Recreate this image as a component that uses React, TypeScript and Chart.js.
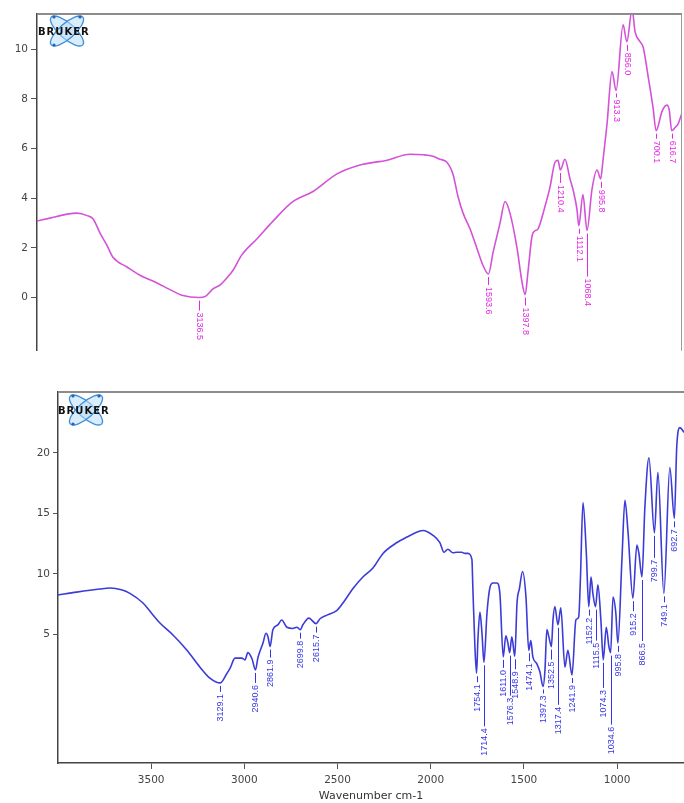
import React, { useEffect, useRef } from "react";
import { Chart, registerables } from "chart.js";

Chart.register(...registerables);

// ---------- Top spectrum (magenta) ----------
const TOP_WN = [
  4000, 3931, 3840, 3787, 3733, 3701, 3664, 3627, 3595, 3520,
  3451, 3360, 3291, 3222, 3136.5, 3100, 3062, 3025, 2987, 2955,
  2910, 2827, 2742, 2635, 2529, 2401, 2278, 2134, 2012, 1940,
  1889, 1852, 1815, 1782, 1756, 1729, 1692, 1655, 1623, 1593.6,
  1569, 1532, 1505, 1479, 1441, 1415, 1397.8, 1383, 1361, 1345,
  1329, 1292, 1265, 1239, 1223, 1210.4, 1186, 1159, 1143, 1122,
  1112.1, 1090, 1068.4, 1042, 1015, 995.8, 983, 962, 935, 913.3,
  876, 856.0, 828, 812, 785, 769, 743, 716, 700.1, 668,
  642, 630, 616.7, 600, 585, 562,
];
const TOP_ABS = [
  3.08, 3.2, 3.36, 3.4, 3.3, 3.16, 2.6, 2.1, 1.62, 1.23,
  0.9, 0.59, 0.32, 0.08, 0.0, 0.06, 0.35, 0.5, 0.8, 1.1,
  1.7, 2.37, 3.08, 3.87, 4.27, 4.98, 5.34, 5.53, 5.77, 5.75,
  5.69, 5.57, 5.45, 4.95, 4.07, 3.4, 2.77, 1.98, 1.3, 0.95,
  1.82, 3.0, 3.87, 3.4, 1.98, 0.63, 0.12, 1.03, 2.49, 2.69,
  2.77, 3.68, 4.47, 5.45, 5.53, 5.14, 5.57, 4.78, 4.35, 3.56,
  2.89, 4.15, 2.7, 4.35, 5.14, 4.78, 5.53, 6.96, 9.1, 8.34,
  10.99, 10.3, 11.6, 10.7, 10.3, 10.08, 8.93, 7.63, 6.72, 7.51,
  7.75, 7.55, 6.72, 6.84, 6.96, 7.43,
];
const TOP_PEAK_WN = [3136.5, 1593.6, 1397.8, 1210.4, 1112.1, 1068.4, 995.8, 913.3, 856.0, 700.1, 616.7];
const TOP_PEAK_TEXT = ["3136.5", "1593.6", "1397.8", "1210.4", "1112.1", "1068.4", "995.8", "913.3", "856.0", "700.1", "616.7"];
const TOP_Y_TICKS = [0, 2, 4, 6, 8, 10];

// ---------- Bottom spectrum (blue) ----------
const BOT_WN = [
  4000, 3900, 3775, 3721, 3660, 3614, 3544, 3500, 3453, 3383,
  3308, 3238, 3185, 3129.1, 3093, 3077, 3050, 3013, 2997, 2981,
  2959, 2940.6, 2927, 2900, 2884, 2873, 2861.9, 2847, 2820, 2800,
  2772, 2740, 2718, 2699.8, 2686, 2654, 2615.7, 2594, 2557, 2503,
  2471, 2417, 2364, 2310, 2256, 2181, 2128, 2058, 2042, 1988,
  1951, 1929, 1908, 1881, 1860, 1833, 1817, 1800, 1779, 1774,
  1763, 1754.1, 1747, 1736, 1725, 1714.4, 1698, 1682, 1666, 1645,
  1629, 1611.0, 1597, 1586, 1576.3, 1565, 1548.9, 1537, 1524, 1507,
  1489, 1474.1, 1463, 1452, 1431, 1414, 1397.3, 1387, 1377, 1366,
  1352.5, 1344, 1334, 1317.4, 1302, 1280, 1264, 1241.9, 1221, 1206,
  1197, 1183, 1165, 1152.2, 1140, 1130, 1115.5, 1103, 1087, 1074.3,
  1058, 1044, 1034.6, 1022, 1007, 995.8, 974, 958, 942, 915.2,
  894, 883, 866.5, 851, 829, 799.7, 781, 749.1, 717, 692.7,
  680, 663, 640,
];
const BOT_ABS = [
  8.26, 8.5, 8.76, 8.84, 8.7, 8.4, 7.6, 6.8, 5.95, 4.96,
  3.7, 2.3, 1.4, 1.0, 1.8, 2.2, 3.05, 3.05, 2.9, 3.5,
  3.0, 2.07, 3.1, 4.3, 5.1, 4.8, 4.0, 5.4, 5.8, 6.2,
  5.6, 5.5, 5.6, 5.4, 5.8, 6.35, 5.9, 6.3, 6.6, 7.0,
  7.6, 8.8, 9.75, 10.5, 11.7, 12.6, 13.05, 13.55, 13.6, 13.2,
  12.6, 11.8, 12.05, 11.75, 11.8, 11.8, 11.7, 11.7, 11.2, 8.9,
  4.0, 1.8, 4.5, 6.85, 5.1, 2.7, 6.8, 8.9, 9.25, 9.25,
  8.4, 3.15, 4.9, 4.3, 3.5, 4.8, 3.2, 7.6, 8.8, 10.2,
  8.1, 3.7, 4.5, 3.15, 2.6, 1.9, 0.7, 2.07, 5.4, 4.8,
  4.0, 6.2, 7.3, 5.8, 7.2, 2.3, 3.7, 1.65, 6.2, 6.45,
  9.5, 15.9, 11.7, 7.3, 9.75, 8.4, 7.3, 9.1, 6.2, 2.9,
  5.6, 4.0, 3.5, 8.1, 6.8, 4.3, 11.2, 16.1, 13.6, 8.0,
  12.4, 11.7, 9.75, 15.5, 19.6, 13.4, 18.4, 8.4, 18.8, 14.6,
  20.5, 22.1, 21.7,
];
const BOT_PEAK_WN = [3129.1, 2940.6, 2861.9, 2699.8, 2615.7, 1754.1, 1714.4, 1611.0, 1576.3, 1548.9, 1474.1, 1397.3, 1352.5, 1317.4, 1241.9, 1152.2, 1115.5, 1074.3, 1034.6, 995.8, 915.2, 866.5, 799.7, 749.1, 692.7];
const BOT_PEAK_TEXT = ["3129.1", "2940.6", "2861.9", "2699.8", "2615.7", "1754.1", "1714.4", "1611.0", "1576.3", "1548.9", "1474.1", "1397.3", "1352.5", "1317.4", "1241.9", "1152.2", "1115.5", "1074.3", "1034.6", "995.8", "915.2", "866.5", "799.7", "749.1", "692.7"];
const BOT_Y_TICKS = [5, 10, 15, 20];
const X_TICKS = [3500, 3000, 2500, 2000, 1500, 1000];

// ---------- styling (leader line lengths in px, not data) ----------
const TOP_LEADER = [10, 8, 8, 10, 5, 43, 6, 4, 6, 5, 5];
const BOT_LEADER = [6, 10, 8, 6, 6, 6, 61, 8, 40, 10, 8, 4, 10, 77, 5, 6, 31, 25, 69, 6, 10, 61, 22, 6, 6];

const TOP_COLOR = "#d452d8";
const TOP_LABEL_COLOR = "#e02ae0";
const BOT_COLOR = "#3b3bd8";
const BOT_LABEL_COLOR = "#3434e6";
const AXIS_FONT = '"DejaVu Sans", Arial, sans-serif';

function interp(wn: number[], val: number[], x: number): number {
  for (let i = 0; i < wn.length - 1; i++) {
    const a = wn[i], b = wn[i + 1];
    if ((x <= a && x >= b) || (x >= a && x <= b)) {
      const t = a === b ? 0 : (x - a) / (b - a);
      return val[i] + t * (val[i + 1] - val[i]);
    }
  }
  return val[val.length - 1];
}

function peakPlugin(id: string, wn: number[], val: number[], peaks: number[], texts: string[], leaders: number[], color: string, dir: number) {
  return {
    id,
    afterDatasetsDraw(chart: any) {
      const { ctx, scales } = chart;
      const xs = scales.x, ys = scales.y;
      ctx.save();
      ctx.fillStyle = color;
      ctx.strokeStyle = color;
      ctx.lineWidth = 1;
      ctx.font = '9px "Liberation Sans", Arial, sans-serif';
      peaks.forEach((p, i) => {
        const v = interp(wn, val, p);
        const px = Math.round(xs.getPixelForValue(p)) + 0.5;
        const py = ys.getPixelForValue(v);
        const L = leaders[i];
        ctx.beginPath();
        ctx.moveTo(px, py + 3);
        ctx.lineTo(px, py + 3 + L);
        ctx.stroke();
        ctx.save();
        ctx.translate(px, py + 5 + L);
        ctx.rotate((dir * Math.PI) / 2);
        ctx.textAlign = dir < 0 ? "right" : "left";
        ctx.textBaseline = "middle";
        ctx.fillText(texts[i], 0, 0);
        ctx.restore();
      });
      ctx.restore();
    },
  };
}

function framePlugin(id: string, drawRight: boolean) {
  return {
    id,
    afterDraw(chart: any) {
      const { ctx, chartArea: a } = chart;
      ctx.save();
      ctx.strokeStyle = "#8c8c8c";
      ctx.lineWidth = 2;
      ctx.beginPath();
      ctx.moveTo(a.left, a.top);
      ctx.lineTo(a.right, a.top);
      ctx.stroke();
      if (drawRight) {
        ctx.lineWidth = 1;
        ctx.strokeStyle = "#9a9a9a";
        ctx.beginPath();
        ctx.moveTo(a.right - 0.5, a.top);
        ctx.lineTo(a.right - 0.5, a.bottom);
        ctx.stroke();
      }
      ctx.restore();
    },
  };
}

// Logo is positioned relative to the chart area's top-left corner
function logoPlugin(id: string, dx: number, dy: number, textDx: number) {
  return {
    id,
    afterDraw(chart: any) {
      const ctx = chart.ctx as CanvasRenderingContext2D;
      const a = chart.chartArea;
      const cx = a.left + dx;
      const cy = a.top + dy;
      ctx.save();
      ctx.lineWidth = 1.3;
      ctx.strokeStyle = "#3f8fd8";
      ctx.fillStyle = "rgba(185,222,250,0.55)";
      [0.72, -0.72].forEach((ang) => {
        ctx.beginPath();
        ctx.ellipse(cx, cy, 21, 7.5, ang, 0, Math.PI * 2);
        ctx.fill();
        ctx.stroke();
      });
      ctx.fillStyle = "#2d5fae";
      [[cx - 13, cy - 14], [cx - 13, cy + 14], [cx + 13, cy - 14]].forEach(([x, y]) => {
        ctx.beginPath();
        ctx.arc(x, y, 1.6, 0, Math.PI * 2);
        ctx.fill();
      });
      ctx.font = 'bold 10px "DejaVu Sans", Arial, sans-serif';
      (ctx as any).letterSpacing = "1px";
      ctx.fillStyle = "#111";
      ctx.textBaseline = "middle";
      ctx.textAlign = "left";
      ctx.fillText("BRUKER", a.left + textDx, cy + 1);
      ctx.restore();
    },
  };
}

function yAxis(min: number, max: number, ticks: number[], width: number, tickLen: number) {
  return {
    type: "linear",
    min,
    max,
    afterBuildTicks: (s: any) => {
      s.ticks = ticks.map((v) => ({ value: v }));
    },
    afterFit: (s: any) => {
      s.width = width;
    },
    grid: { drawOnChartArea: false, drawTicks: true, tickLength: tickLen, color: "#555", lineWidth: 1 },
    border: { display: true, color: "#444", width: 1.5 },
    ticks: {
      color: "#444",
      font: { family: AXIS_FONT, size: 10.5 },
      padding: 3,
      callback: (v: any) => String(v),
    },
  };
}

export default function App() {
  const topRef = useRef<HTMLCanvasElement | null>(null);
  const botRef = useRef<HTMLCanvasElement | null>(null);

  useEffect(() => {
    const top = new Chart(topRef.current as HTMLCanvasElement, {
      type: "line",
      data: {
        datasets: [
          {
            data: TOP_WN.map((w, i) => ({ x: w, y: TOP_ABS[i] })),
            borderColor: TOP_COLOR,
            borderWidth: 1.6,
            pointRadius: 0,
            cubicInterpolationMode: "monotone",
            fill: false,
          },
        ],
      },
      options: {
        animation: false,
        responsive: false,
        devicePixelRatio: 1,
        events: [],
        layout: { padding: { top: 14, right: 2, bottom: 3, left: 0 } },
        plugins: { legend: { display: false }, tooltip: { enabled: false } },
        scales: {
          x: { type: "linear", reverse: true, min: 562, max: 4000, display: false },
          y: yAxis(-2.14, 11.42, TOP_Y_TICKS, 37, 6) as any,
        },
      } as any,
      plugins: [
        framePlugin("topFrame", true),
        peakPlugin("topPeaks", TOP_WN, TOP_ABS, TOP_PEAK_WN, TOP_PEAK_TEXT, TOP_LEADER, TOP_LABEL_COLOR, 1),
        logoPlugin("topLogo", 30, 17, 1),
      ],
    } as any);

    const bot = new Chart(botRef.current as HTMLCanvasElement, {
      type: "line",
      data: {
        datasets: [
          {
            data: BOT_WN.map((w, i) => ({ x: w, y: BOT_ABS[i] })),
            borderColor: BOT_COLOR,
            borderWidth: 1.6,
            pointRadius: 0,
            cubicInterpolationMode: "monotone",
            fill: false,
          },
        ],
      },
      options: {
        animation: false,
        responsive: false,
        devicePixelRatio: 1,
        events: [],
        layout: { padding: { top: 12, right: 0, bottom: 0, left: 0 } },
        plugins: { legend: { display: false }, tooltip: { enabled: false } },
        scales: {
          x: {
            type: "linear",
            reverse: true,
            min: 641,
            max: 4000,
            afterBuildTicks: (s: any) => {
              s.ticks = X_TICKS.map((v) => ({ value: v }));
            },
            afterFit: (s: any) => {
              s.height = 40;
            },
            grid: { drawOnChartArea: false, drawTicks: true, tickLength: 6, color: "#555", lineWidth: 1 },
            border: { display: true, color: "#444", width: 1.5 },
            ticks: {
              color: "#444",
              font: { family: AXIS_FONT, size: 10.5 },
              padding: 5,
              maxRotation: 0,
              autoSkip: false,
              callback: (v: any) => String(v),
            },
            title: {
              display: true,
              text: "Wavenumber cm-1",
              color: "#333",
              font: { family: AXIS_FONT, size: 11 },
              padding: { top: 0, bottom: 0 },
            },
          },
          y: yAxis(-5.62, 25.04, BOT_Y_TICKS, 58, 5) as any,
        },
      } as any,
      plugins: [
        framePlugin("botFrame", false),
        peakPlugin("botPeaks", BOT_WN, BOT_ABS, BOT_PEAK_WN, BOT_PEAK_TEXT, BOT_LEADER, BOT_LABEL_COLOR, -1),
        logoPlugin("botLogo", 28, 18, 0),
      ],
    } as any);

    return () => {
      top.destroy();
      bot.destroy();
    };
  }, []);

  return (
    <div style={{ position: "absolute", left: 0, top: 0, width: 684, height: 803, background: "#fff", overflow: "hidden" }}>
      <canvas ref={topRef} width={684} height={360} style={{ position: "absolute", left: 0, top: 0 }} />
      <canvas ref={botRef} width={684} height={423} style={{ position: "absolute", left: 0, top: 380 }} />
    </div>
  );
}
